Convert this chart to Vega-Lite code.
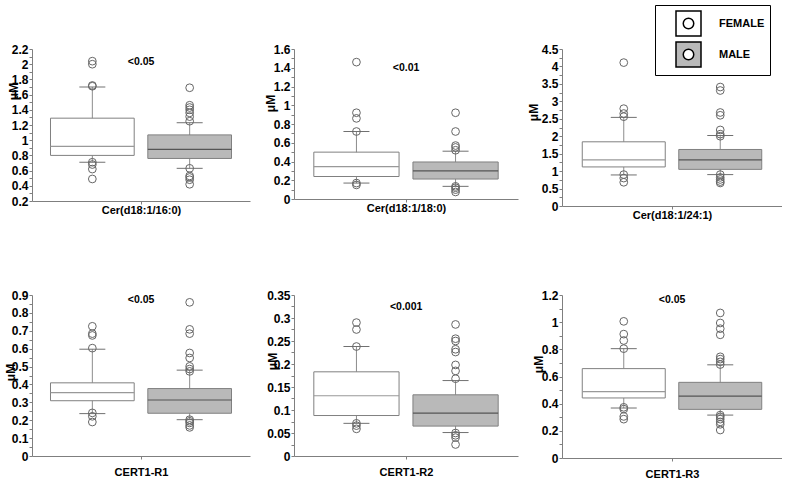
{
  "$schema": "https://vega.github.io/schema/vega-lite/v6.json",
  "padding": {"left": 4, "top": 4, "right": 0, "bottom": 0},
  "autosize": {"type": "pad"},
  "bounds": "flush",
  "columns": 3,
  "spacing": {"row": 89, "column": 44},
  "datasets": {
    "boxes": [
      {"panel": "p1", "sex": "FEMALE", "lo": 0.71, "q1": 0.80, "med": 0.92, "q3": 1.29, "hi": 1.70},
      {"panel": "p1", "sex": "MALE", "lo": 0.63, "q1": 0.76, "med": 0.88, "q3": 1.07, "hi": 1.23},
      {"panel": "p2", "sex": "FEMALE", "lo": 0.17, "q1": 0.24, "med": 0.345, "q3": 0.50, "hi": 0.72},
      {"panel": "p2", "sex": "MALE", "lo": 0.135, "q1": 0.213, "med": 0.30, "q3": 0.395, "hi": 0.51},
      {"panel": "p3", "sex": "FEMALE", "lo": 0.89, "q1": 1.12, "med": 1.32, "q3": 1.84, "hi": 2.54},
      {"panel": "p3", "sex": "MALE", "lo": 0.90, "q1": 1.05, "med": 1.32, "q3": 1.62, "hi": 2.02},
      {"panel": "p4", "sex": "FEMALE", "lo": 0.237, "q1": 0.309, "med": 0.354, "q3": 0.409, "hi": 0.597},
      {"panel": "p4", "sex": "MALE", "lo": 0.203, "q1": 0.239, "med": 0.313, "q3": 0.377, "hi": 0.48},
      {"panel": "p5", "sex": "FEMALE", "lo": 0.071, "q1": 0.088, "med": 0.131, "q3": 0.183, "hi": 0.238},
      {"panel": "p5", "sex": "MALE", "lo": 0.051, "q1": 0.065, "med": 0.093, "q3": 0.133, "hi": 0.164},
      {"panel": "p6", "sex": "FEMALE", "lo": 0.368, "q1": 0.442, "med": 0.489, "q3": 0.658, "hi": 0.805},
      {"panel": "p6", "sex": "MALE", "lo": 0.316, "q1": 0.358, "med": 0.455, "q3": 0.557, "hi": 0.686}
    ],
    "outliers": [
      {"panel": "p1", "sex": "FEMALE", "value": 2.04}, {"panel": "p1", "sex": "FEMALE", "value": 2.0}, {"panel": "p1", "sex": "FEMALE", "value": 1.72}, {"panel": "p1", "sex": "FEMALE", "value": 1.71}, {"panel": "p1", "sex": "FEMALE", "value": 0.71}, {"panel": "p1", "sex": "FEMALE", "value": 0.68}, {"panel": "p1", "sex": "FEMALE", "value": 0.62}, {"panel": "p1", "sex": "FEMALE", "value": 0.49},
      {"panel": "p1", "sex": "MALE", "value": 1.69}, {"panel": "p1", "sex": "MALE", "value": 1.46}, {"panel": "p1", "sex": "MALE", "value": 1.43}, {"panel": "p1", "sex": "MALE", "value": 1.40}, {"panel": "p1", "sex": "MALE", "value": 1.36}, {"panel": "p1", "sex": "MALE", "value": 1.31}, {"panel": "p1", "sex": "MALE", "value": 1.25}, {"panel": "p1", "sex": "MALE", "value": 0.63}, {"panel": "p1", "sex": "MALE", "value": 0.53}, {"panel": "p1", "sex": "MALE", "value": 0.51}, {"panel": "p1", "sex": "MALE", "value": 0.48}, {"panel": "p1", "sex": "MALE", "value": 0.42},
      {"panel": "p2", "sex": "FEMALE", "value": 1.46}, {"panel": "p2", "sex": "FEMALE", "value": 0.92}, {"panel": "p2", "sex": "FEMALE", "value": 0.86}, {"panel": "p2", "sex": "FEMALE", "value": 0.72}, {"panel": "p2", "sex": "FEMALE", "value": 0.17}, {"panel": "p2", "sex": "FEMALE", "value": 0.15},
      {"panel": "p2", "sex": "MALE", "value": 0.92}, {"panel": "p2", "sex": "MALE", "value": 0.72}, {"panel": "p2", "sex": "MALE", "value": 0.57}, {"panel": "p2", "sex": "MALE", "value": 0.55}, {"panel": "p2", "sex": "MALE", "value": 0.52}, {"panel": "p2", "sex": "MALE", "value": 0.135}, {"panel": "p2", "sex": "MALE", "value": 0.12}, {"panel": "p2", "sex": "MALE", "value": 0.10}, {"panel": "p2", "sex": "MALE", "value": 0.075},
      {"panel": "p3", "sex": "FEMALE", "value": 4.11}, {"panel": "p3", "sex": "FEMALE", "value": 2.79}, {"panel": "p3", "sex": "FEMALE", "value": 2.65}, {"panel": "p3", "sex": "FEMALE", "value": 2.56}, {"panel": "p3", "sex": "FEMALE", "value": 0.90}, {"panel": "p3", "sex": "FEMALE", "value": 0.80}, {"panel": "p3", "sex": "FEMALE", "value": 0.68},
      {"panel": "p3", "sex": "MALE", "value": 3.41}, {"panel": "p3", "sex": "MALE", "value": 3.31}, {"panel": "p3", "sex": "MALE", "value": 2.68}, {"panel": "p3", "sex": "MALE", "value": 2.60}, {"panel": "p3", "sex": "MALE", "value": 2.18}, {"panel": "p3", "sex": "MALE", "value": 2.06}, {"panel": "p3", "sex": "MALE", "value": 2.0}, {"panel": "p3", "sex": "MALE", "value": 0.90}, {"panel": "p3", "sex": "MALE", "value": 0.82}, {"panel": "p3", "sex": "MALE", "value": 0.76}, {"panel": "p3", "sex": "MALE", "value": 0.70}, {"panel": "p3", "sex": "MALE", "value": 0.66},
      {"panel": "p4", "sex": "FEMALE", "value": 0.725}, {"panel": "p4", "sex": "FEMALE", "value": 0.684}, {"panel": "p4", "sex": "FEMALE", "value": 0.674}, {"panel": "p4", "sex": "FEMALE", "value": 0.603}, {"panel": "p4", "sex": "FEMALE", "value": 0.241}, {"panel": "p4", "sex": "FEMALE", "value": 0.222}, {"panel": "p4", "sex": "FEMALE", "value": 0.19},
      {"panel": "p4", "sex": "MALE", "value": 0.859}, {"panel": "p4", "sex": "MALE", "value": 0.708}, {"panel": "p4", "sex": "MALE", "value": 0.684}, {"panel": "p4", "sex": "MALE", "value": 0.576}, {"panel": "p4", "sex": "MALE", "value": 0.548}, {"panel": "p4", "sex": "MALE", "value": 0.501}, {"panel": "p4", "sex": "MALE", "value": 0.486}, {"panel": "p4", "sex": "MALE", "value": 0.473}, {"panel": "p4", "sex": "MALE", "value": 0.203}, {"panel": "p4", "sex": "MALE", "value": 0.194}, {"panel": "p4", "sex": "MALE", "value": 0.185}, {"panel": "p4", "sex": "MALE", "value": 0.171}, {"panel": "p4", "sex": "MALE", "value": 0.16},
      {"panel": "p5", "sex": "FEMALE", "value": 0.29}, {"panel": "p5", "sex": "FEMALE", "value": 0.275}, {"panel": "p5", "sex": "FEMALE", "value": 0.238}, {"panel": "p5", "sex": "FEMALE", "value": 0.071}, {"panel": "p5", "sex": "FEMALE", "value": 0.066}, {"panel": "p5", "sex": "FEMALE", "value": 0.059},
      {"panel": "p5", "sex": "MALE", "value": 0.286}, {"panel": "p5", "sex": "MALE", "value": 0.255}, {"panel": "p5", "sex": "MALE", "value": 0.25}, {"panel": "p5", "sex": "MALE", "value": 0.232}, {"panel": "p5", "sex": "MALE", "value": 0.226}, {"panel": "p5", "sex": "MALE", "value": 0.198}, {"panel": "p5", "sex": "MALE", "value": 0.185}, {"panel": "p5", "sex": "MALE", "value": 0.168}, {"panel": "p5", "sex": "MALE", "value": 0.05}, {"panel": "p5", "sex": "MALE", "value": 0.045}, {"panel": "p5", "sex": "MALE", "value": 0.04}, {"panel": "p5", "sex": "MALE", "value": 0.025},
      {"panel": "p6", "sex": "FEMALE", "value": 1.006}, {"panel": "p6", "sex": "FEMALE", "value": 0.912}, {"panel": "p6", "sex": "FEMALE", "value": 0.865}, {"panel": "p6", "sex": "FEMALE", "value": 0.805}, {"panel": "p6", "sex": "FEMALE", "value": 0.373}, {"panel": "p6", "sex": "FEMALE", "value": 0.36}, {"panel": "p6", "sex": "FEMALE", "value": 0.306}, {"panel": "p6", "sex": "FEMALE", "value": 0.286},
      {"panel": "p6", "sex": "MALE", "value": 1.068}, {"panel": "p6", "sex": "MALE", "value": 0.994}, {"panel": "p6", "sex": "MALE", "value": 0.952}, {"panel": "p6", "sex": "MALE", "value": 0.907}, {"panel": "p6", "sex": "MALE", "value": 0.745}, {"panel": "p6", "sex": "MALE", "value": 0.728}, {"panel": "p6", "sex": "MALE", "value": 0.708}, {"panel": "p6", "sex": "MALE", "value": 0.688}, {"panel": "p6", "sex": "MALE", "value": 0.316}, {"panel": "p6", "sex": "MALE", "value": 0.303}, {"panel": "p6", "sex": "MALE", "value": 0.286}, {"panel": "p6", "sex": "MALE", "value": 0.266}, {"panel": "p6", "sex": "MALE", "value": 0.248}, {"panel": "p6", "sex": "MALE", "value": 0.206}
    ],
    "pvals": [
      {"panel": "p1", "sex": "MALE", "label": "<0.05", "y": 2.03},
      {"panel": "p2", "sex": "MALE", "label": "<0.01", "y": 1.40},
      {"panel": "p4", "sex": "MALE", "label": "<0.05", "y": 0.87},
      {"panel": "p5", "sex": "MALE", "label": "<0.001", "y": 0.325},
      {"panel": "p6", "sex": "MALE", "label": "<0.05", "y": 1.16}
    ]
  },
  "concat": [
    {
      "width": 218, "height": 152,
      "encoding": {"x": {"field": "sex", "type": "nominal", "scale": {"domain": ["FEMALE", "MALE"], "paddingInner": 0.14, "paddingOuter": 0.19}, "axis": {"title": "Cer(d18:1/16:0)", "labels": false, "values": ["MALE"], "bandPosition": -0.08, "titlePadding": 0}}},
      "layer": [
        {"data": {"name": "boxes"}, "transform": [{"filter": "datum.panel=='p1'"}], "mark": {"type": "rule", "color": "#8c8c8c"}, "encoding": {"y": {"field": "lo", "type": "quantitative", "scale": {"domain": [0.2, 2.2], "nice": false, "zero": false}, "axis": {"title": "μM", "tickCount": 100, "labelOverlap": false, "values": [0.2,0.3,0.4,0.5,0.6,0.7,0.8,0.9,1.0,1.1,1.2,1.3,1.4,1.5,1.6,1.7,1.8,1.9,2.0,2.1,2.2], "labelExpr": "round(datum.value*10)%2==0 ? format(datum.value,'~g') : ''", "titleX": -19, "titleY": 42}}, "y2": {"field": "hi"}}},
        {"data": {"name": "boxes"}, "transform": [{"filter": "datum.panel=='p1'"}], "mark": {"type": "bar", "stroke": "#808080", "strokeWidth": 1}, "encoding": {"y": {"field": "q1", "type": "quantitative"}, "y2": {"field": "q3"}, "fill": {"field": "sex", "type": "nominal", "scale": {"domain": ["FEMALE", "MALE"], "range": ["#ffffff", "#b9b9b9"]}, "legend": {"title": null, "orient": "none", "legendX": 623, "legendY": -44, "symbolType": "M-1,-1H1V1H-1Z M0.42,0A0.42,0.42,0,1,0,-0.42,0A0.42,0.42,0,1,0,0.42,0Z", "symbolSize": 625, "symbolStrokeColor": "black", "symbolStrokeWidth": 1.5, "symbolOpacity": 1, "labelFontSize": 11, "labelFontWeight": "bold", "labelColor": "black", "labelOffset": 17, "symbolOffset": 15, "rowPadding": 0, "padding": 5, "strokeColor": "black", "fillColor": "white"}}}},
        {"data": {"name": "boxes"}, "transform": [{"filter": "datum.panel=='p1'"}], "mark": {"type": "bar", "fillOpacity": 0, "strokeWidth": 1.2}, "encoding": {"y": {"field": "med", "type": "quantitative"}, "y2": {"field": "med"}, "stroke": {"condition": {"test": "datum.sex=='MALE'", "value": "#555555"}, "value": "#999999"}}},
        {"data": {"name": "boxes"}, "transform": [{"filter": "datum.panel=='p1'"}], "mark": {"type": "tick", "color": "#707070", "size": 26, "thickness": 1, "opacity": 1}, "encoding": {"y": {"field": "lo", "type": "quantitative"}}},
        {"data": {"name": "boxes"}, "transform": [{"filter": "datum.panel=='p1'"}], "mark": {"type": "tick", "color": "#707070", "size": 26, "thickness": 1, "opacity": 1}, "encoding": {"y": {"field": "hi", "type": "quantitative"}}},
        {"data": {"name": "outliers"}, "transform": [{"filter": "datum.panel=='p1'"}], "mark": {"type": "point", "shape": "circle", "filled": false, "color": "#666666", "strokeWidth": 1, "size": 60, "opacity": 1}, "encoding": {"y": {"field": "value", "type": "quantitative"}}},
        {"data": {"name": "pvals"}, "transform": [{"filter": "datum.panel=='p1'"}], "mark": {"type": "text", "fontWeight": "bold", "fontSize": 10.5, "color": "black", "baseline": "middle"}, "encoding": {"x": {"field": "sex", "type": "nominal", "bandPosition": -0.08}, "y": {"field": "y", "type": "quantitative"}, "text": {"field": "label"}}}
      ]
    },
    {
      "width": 224, "height": 150,
      "encoding": {"x": {"field": "sex", "type": "nominal", "scale": {"domain": ["FEMALE", "MALE"], "paddingInner": 0.14, "paddingOuter": 0.2}, "axis": {"title": "Cer(d18:1/18:0)", "labels": false, "values": ["MALE"], "bandPosition": -0.08, "titlePadding": 0}}},
      "layer": [
        {"data": {"name": "boxes"}, "transform": [{"filter": "datum.panel=='p2'"}], "mark": {"type": "rule", "color": "#8c8c8c"}, "encoding": {"y": {"field": "lo", "type": "quantitative", "scale": {"domain": [0, 1.6], "nice": false, "zero": false}, "axis": {"title": "μM", "tickCount": 100, "labelOverlap": false, "values": [0,0.1,0.2,0.3,0.4,0.5,0.6,0.7,0.8,0.9,1.0,1.1,1.2,1.3,1.4,1.5,1.6], "labelExpr": "round(datum.value*10)%2==0 ? format(datum.value,'~g') : ''", "titleX": -24, "titleY": 54}}, "y2": {"field": "hi"}}},
        {"data": {"name": "boxes"}, "transform": [{"filter": "datum.panel=='p2'"}], "mark": {"type": "bar", "stroke": "#808080", "strokeWidth": 1}, "encoding": {"y": {"field": "q1", "type": "quantitative"}, "y2": {"field": "q3"}, "fill": {"field": "sex", "type": "nominal", "scale": {"domain": ["FEMALE", "MALE"], "range": ["#ffffff", "#b9b9b9"]}, "legend": {"title": null, "orient": "none", "legendX": 623, "legendY": -44, "symbolType": "M-1,-1H1V1H-1Z M0.42,0A0.42,0.42,0,1,0,-0.42,0A0.42,0.42,0,1,0,0.42,0Z", "symbolSize": 625, "symbolStrokeColor": "black", "symbolStrokeWidth": 1.5, "symbolOpacity": 1, "labelFontSize": 11, "labelFontWeight": "bold", "labelColor": "black", "labelOffset": 17, "symbolOffset": 15, "rowPadding": 0, "padding": 5, "strokeColor": "black", "fillColor": "white"}}}},
        {"data": {"name": "boxes"}, "transform": [{"filter": "datum.panel=='p2'"}], "mark": {"type": "bar", "fillOpacity": 0, "strokeWidth": 1.2}, "encoding": {"y": {"field": "med", "type": "quantitative"}, "y2": {"field": "med"}, "stroke": {"condition": {"test": "datum.sex=='MALE'", "value": "#555555"}, "value": "#999999"}}},
        {"data": {"name": "boxes"}, "transform": [{"filter": "datum.panel=='p2'"}], "mark": {"type": "tick", "color": "#707070", "size": 26, "thickness": 1, "opacity": 1}, "encoding": {"y": {"field": "lo", "type": "quantitative"}}},
        {"data": {"name": "boxes"}, "transform": [{"filter": "datum.panel=='p2'"}], "mark": {"type": "tick", "color": "#707070", "size": 26, "thickness": 1, "opacity": 1}, "encoding": {"y": {"field": "hi", "type": "quantitative"}}},
        {"data": {"name": "outliers"}, "transform": [{"filter": "datum.panel=='p2'"}], "mark": {"type": "point", "shape": "circle", "filled": false, "color": "#666666", "strokeWidth": 1, "size": 60, "opacity": 1}, "encoding": {"y": {"field": "value", "type": "quantitative"}}},
        {"data": {"name": "pvals"}, "transform": [{"filter": "datum.panel=='p2'"}], "mark": {"type": "text", "fontWeight": "bold", "fontSize": 10.5, "color": "black", "baseline": "middle"}, "encoding": {"x": {"field": "sex", "type": "nominal", "bandPosition": -0.08}, "y": {"field": "y", "type": "quantitative"}, "text": {"field": "label"}}}
      ]
    },
    {
      "width": 220, "height": 157,
      "encoding": {"x": {"field": "sex", "type": "nominal", "scale": {"domain": ["FEMALE", "MALE"], "paddingInner": 0.14, "paddingOuter": 0.21}, "axis": {"title": "Cer(d18:1/24:1)", "labels": false, "values": ["MALE"], "bandPosition": -0.08, "titlePadding": 0}}},
      "layer": [
        {"data": {"name": "boxes"}, "transform": [{"filter": "datum.panel=='p3'"}], "mark": {"type": "rule", "color": "#8c8c8c"}, "encoding": {"y": {"field": "lo", "type": "quantitative", "scale": {"domain": [0, 4.5], "nice": false, "zero": false}, "axis": {"title": "μM", "tickCount": 100, "labelOverlap": false, "values": [0,0.25,0.5,0.75,1.0,1.25,1.5,1.75,2.0,2.25,2.5,2.75,3.0,3.25,3.5,3.75,4.0,4.25,4.5], "labelExpr": "round(datum.value*4)%2==0 ? format(datum.value,'~g') : ''", "titleX": -29, "titleY": 63}}, "y2": {"field": "hi"}}},
        {"data": {"name": "boxes"}, "transform": [{"filter": "datum.panel=='p3'"}], "mark": {"type": "bar", "stroke": "#808080", "strokeWidth": 1}, "encoding": {"y": {"field": "q1", "type": "quantitative"}, "y2": {"field": "q3"}, "fill": {"field": "sex", "type": "nominal", "scale": {"domain": ["FEMALE", "MALE"], "range": ["#ffffff", "#b9b9b9"]}, "legend": {"title": null, "orient": "none", "legendX": 623, "legendY": -44, "symbolType": "M-1,-1H1V1H-1Z M0.42,0A0.42,0.42,0,1,0,-0.42,0A0.42,0.42,0,1,0,0.42,0Z", "symbolSize": 625, "symbolStrokeColor": "black", "symbolStrokeWidth": 1.5, "symbolOpacity": 1, "labelFontSize": 11, "labelFontWeight": "bold", "labelColor": "black", "labelOffset": 17, "symbolOffset": 15, "rowPadding": 0, "padding": 5, "strokeColor": "black", "fillColor": "white"}}}},
        {"data": {"name": "boxes"}, "transform": [{"filter": "datum.panel=='p3'"}], "mark": {"type": "bar", "fillOpacity": 0, "strokeWidth": 1.2}, "encoding": {"y": {"field": "med", "type": "quantitative"}, "y2": {"field": "med"}, "stroke": {"condition": {"test": "datum.sex=='MALE'", "value": "#555555"}, "value": "#999999"}}},
        {"data": {"name": "boxes"}, "transform": [{"filter": "datum.panel=='p3'"}], "mark": {"type": "tick", "color": "#707070", "size": 26, "thickness": 1, "opacity": 1}, "encoding": {"y": {"field": "lo", "type": "quantitative"}}},
        {"data": {"name": "boxes"}, "transform": [{"filter": "datum.panel=='p3'"}], "mark": {"type": "tick", "color": "#707070", "size": 26, "thickness": 1, "opacity": 1}, "encoding": {"y": {"field": "hi", "type": "quantitative"}}},
        {"data": {"name": "outliers"}, "transform": [{"filter": "datum.panel=='p3'"}], "mark": {"type": "point", "shape": "circle", "filled": false, "color": "#666666", "strokeWidth": 1, "size": 60, "opacity": 1}, "encoding": {"y": {"field": "value", "type": "quantitative"}}}
      ]
    },
    {
      "width": 218, "height": 161,
      "encoding": {"x": {"field": "sex", "type": "nominal", "scale": {"domain": ["FEMALE", "MALE"], "paddingInner": 0.14, "paddingOuter": 0.19}, "axis": {"title": "CERT1-R1", "labels": false, "values": ["MALE"], "bandPosition": -0.08, "titlePadding": 7}}},
      "layer": [
        {"data": {"name": "boxes"}, "transform": [{"filter": "datum.panel=='p4'"}], "mark": {"type": "rule", "color": "#8c8c8c"}, "encoding": {"y": {"field": "lo", "type": "quantitative", "scale": {"domain": [0, 0.9], "nice": false, "zero": false}, "axis": {"title": "μM", "tickCount": 100, "labelOverlap": false, "values": [0,0.05,0.1,0.15,0.2,0.25,0.3,0.35,0.4,0.45,0.5,0.55,0.6,0.65,0.7,0.75,0.8,0.85,0.9], "labelExpr": "round(datum.value*20)%2==0 ? format(datum.value,'~g') : ''", "titleX": -22, "titleY": 77}}, "y2": {"field": "hi"}}},
        {"data": {"name": "boxes"}, "transform": [{"filter": "datum.panel=='p4'"}], "mark": {"type": "bar", "stroke": "#808080", "strokeWidth": 1}, "encoding": {"y": {"field": "q1", "type": "quantitative"}, "y2": {"field": "q3"}, "fill": {"field": "sex", "type": "nominal", "scale": {"domain": ["FEMALE", "MALE"], "range": ["#ffffff", "#b9b9b9"]}, "legend": {"title": null, "orient": "none", "legendX": 623, "legendY": -44, "symbolType": "M-1,-1H1V1H-1Z M0.42,0A0.42,0.42,0,1,0,-0.42,0A0.42,0.42,0,1,0,0.42,0Z", "symbolSize": 625, "symbolStrokeColor": "black", "symbolStrokeWidth": 1.5, "symbolOpacity": 1, "labelFontSize": 11, "labelFontWeight": "bold", "labelColor": "black", "labelOffset": 17, "symbolOffset": 15, "rowPadding": 0, "padding": 5, "strokeColor": "black", "fillColor": "white"}}}},
        {"data": {"name": "boxes"}, "transform": [{"filter": "datum.panel=='p4'"}], "mark": {"type": "bar", "fillOpacity": 0, "strokeWidth": 1.2}, "encoding": {"y": {"field": "med", "type": "quantitative"}, "y2": {"field": "med"}, "stroke": {"condition": {"test": "datum.sex=='MALE'", "value": "#555555"}, "value": "#999999"}}},
        {"data": {"name": "boxes"}, "transform": [{"filter": "datum.panel=='p4'"}], "mark": {"type": "tick", "color": "#707070", "size": 26, "thickness": 1, "opacity": 1}, "encoding": {"y": {"field": "lo", "type": "quantitative"}}},
        {"data": {"name": "boxes"}, "transform": [{"filter": "datum.panel=='p4'"}], "mark": {"type": "tick", "color": "#707070", "size": 26, "thickness": 1, "opacity": 1}, "encoding": {"y": {"field": "hi", "type": "quantitative"}}},
        {"data": {"name": "outliers"}, "transform": [{"filter": "datum.panel=='p4'"}], "mark": {"type": "point", "shape": "circle", "filled": false, "color": "#666666", "strokeWidth": 1, "size": 60, "opacity": 1}, "encoding": {"y": {"field": "value", "type": "quantitative"}}},
        {"data": {"name": "pvals"}, "transform": [{"filter": "datum.panel=='p4'"}], "mark": {"type": "text", "fontWeight": "bold", "fontSize": 10.5, "color": "black", "baseline": "middle"}, "encoding": {"x": {"field": "sex", "type": "nominal", "bandPosition": -0.08}, "y": {"field": "y", "type": "quantitative"}, "text": {"field": "label"}}}
      ]
    },
    {
      "width": 224, "height": 161,
      "encoding": {"x": {"field": "sex", "type": "nominal", "scale": {"domain": ["FEMALE", "MALE"], "paddingInner": 0.14, "paddingOuter": 0.2}, "axis": {"title": "CERT1-R2", "labels": false, "values": ["MALE"], "bandPosition": -0.08, "titlePadding": 7}}},
      "layer": [
        {"data": {"name": "boxes"}, "transform": [{"filter": "datum.panel=='p5'"}], "mark": {"type": "rule", "color": "#8c8c8c"}, "encoding": {"y": {"field": "lo", "type": "quantitative", "scale": {"domain": [0, 0.35], "nice": false, "zero": false}, "axis": {"title": "μM", "tickCount": 100, "labelOverlap": false, "values": [0,0.025,0.05,0.075,0.1,0.125,0.15,0.175,0.2,0.225,0.25,0.275,0.3,0.325,0.35], "labelExpr": "round(datum.value*40)%2==0 ? format(datum.value,'~g') : ''", "titleX": -22, "titleY": 66}}, "y2": {"field": "hi"}}},
        {"data": {"name": "boxes"}, "transform": [{"filter": "datum.panel=='p5'"}], "mark": {"type": "bar", "stroke": "#808080", "strokeWidth": 1}, "encoding": {"y": {"field": "q1", "type": "quantitative"}, "y2": {"field": "q3"}, "fill": {"field": "sex", "type": "nominal", "scale": {"domain": ["FEMALE", "MALE"], "range": ["#ffffff", "#b9b9b9"]}, "legend": {"title": null, "orient": "none", "legendX": 623, "legendY": -44, "symbolType": "M-1,-1H1V1H-1Z M0.42,0A0.42,0.42,0,1,0,-0.42,0A0.42,0.42,0,1,0,0.42,0Z", "symbolSize": 625, "symbolStrokeColor": "black", "symbolStrokeWidth": 1.5, "symbolOpacity": 1, "labelFontSize": 11, "labelFontWeight": "bold", "labelColor": "black", "labelOffset": 17, "symbolOffset": 15, "rowPadding": 0, "padding": 5, "strokeColor": "black", "fillColor": "white"}}}},
        {"data": {"name": "boxes"}, "transform": [{"filter": "datum.panel=='p5'"}], "mark": {"type": "bar", "fillOpacity": 0, "strokeWidth": 1.2}, "encoding": {"y": {"field": "med", "type": "quantitative"}, "y2": {"field": "med"}, "stroke": {"condition": {"test": "datum.sex=='MALE'", "value": "#555555"}, "value": "#999999"}}},
        {"data": {"name": "boxes"}, "transform": [{"filter": "datum.panel=='p5'"}], "mark": {"type": "tick", "color": "#707070", "size": 26, "thickness": 1, "opacity": 1}, "encoding": {"y": {"field": "lo", "type": "quantitative"}}},
        {"data": {"name": "boxes"}, "transform": [{"filter": "datum.panel=='p5'"}], "mark": {"type": "tick", "color": "#707070", "size": 26, "thickness": 1, "opacity": 1}, "encoding": {"y": {"field": "hi", "type": "quantitative"}}},
        {"data": {"name": "outliers"}, "transform": [{"filter": "datum.panel=='p5'"}], "mark": {"type": "point", "shape": "circle", "filled": false, "color": "#666666", "strokeWidth": 1, "size": 60, "opacity": 1}, "encoding": {"y": {"field": "value", "type": "quantitative"}}},
        {"data": {"name": "pvals"}, "transform": [{"filter": "datum.panel=='p5'"}], "mark": {"type": "text", "fontWeight": "bold", "fontSize": 10.5, "color": "black", "baseline": "middle"}, "encoding": {"x": {"field": "sex", "type": "nominal", "bandPosition": -0.08}, "y": {"field": "y", "type": "quantitative"}, "text": {"field": "label"}}}
      ]
    },
    {
      "width": 220, "height": 163,
      "encoding": {"x": {"field": "sex", "type": "nominal", "scale": {"domain": ["FEMALE", "MALE"], "paddingInner": 0.14, "paddingOuter": 0.21}, "axis": {"title": "CERT1-R3", "labels": false, "values": ["MALE"], "bandPosition": -0.08, "titlePadding": 7}}},
      "layer": [
        {"data": {"name": "boxes"}, "transform": [{"filter": "datum.panel=='p6'"}], "mark": {"type": "rule", "color": "#8c8c8c"}, "encoding": {"y": {"field": "lo", "type": "quantitative", "scale": {"domain": [0, 1.2], "nice": false, "zero": false}, "axis": {"title": "μM", "tickCount": 100, "labelOverlap": false, "values": [0,0.1,0.2,0.3,0.4,0.5,0.6,0.7,0.8,0.9,1.0,1.1,1.2], "labelExpr": "round(datum.value*10)%2==0 ? format(datum.value,'~g') : ''", "titleX": -24, "titleY": 69}}, "y2": {"field": "hi"}}},
        {"data": {"name": "boxes"}, "transform": [{"filter": "datum.panel=='p6'"}], "mark": {"type": "bar", "stroke": "#808080", "strokeWidth": 1}, "encoding": {"y": {"field": "q1", "type": "quantitative"}, "y2": {"field": "q3"}, "fill": {"field": "sex", "type": "nominal", "scale": {"domain": ["FEMALE", "MALE"], "range": ["#ffffff", "#b9b9b9"]}, "legend": {"title": null, "orient": "none", "legendX": 623, "legendY": -44, "symbolType": "M-1,-1H1V1H-1Z M0.42,0A0.42,0.42,0,1,0,-0.42,0A0.42,0.42,0,1,0,0.42,0Z", "symbolSize": 625, "symbolStrokeColor": "black", "symbolStrokeWidth": 1.5, "symbolOpacity": 1, "labelFontSize": 11, "labelFontWeight": "bold", "labelColor": "black", "labelOffset": 17, "symbolOffset": 15, "rowPadding": 0, "padding": 5, "strokeColor": "black", "fillColor": "white"}}}},
        {"data": {"name": "boxes"}, "transform": [{"filter": "datum.panel=='p6'"}], "mark": {"type": "bar", "fillOpacity": 0, "strokeWidth": 1.2}, "encoding": {"y": {"field": "med", "type": "quantitative"}, "y2": {"field": "med"}, "stroke": {"condition": {"test": "datum.sex=='MALE'", "value": "#555555"}, "value": "#999999"}}},
        {"data": {"name": "boxes"}, "transform": [{"filter": "datum.panel=='p6'"}], "mark": {"type": "tick", "color": "#707070", "size": 26, "thickness": 1, "opacity": 1}, "encoding": {"y": {"field": "lo", "type": "quantitative"}}},
        {"data": {"name": "boxes"}, "transform": [{"filter": "datum.panel=='p6'"}], "mark": {"type": "tick", "color": "#707070", "size": 26, "thickness": 1, "opacity": 1}, "encoding": {"y": {"field": "hi", "type": "quantitative"}}},
        {"data": {"name": "outliers"}, "transform": [{"filter": "datum.panel=='p6'"}], "mark": {"type": "point", "shape": "circle", "filled": false, "color": "#666666", "strokeWidth": 1, "size": 60, "opacity": 1}, "encoding": {"y": {"field": "value", "type": "quantitative"}}},
        {"data": {"name": "pvals"}, "transform": [{"filter": "datum.panel=='p6'"}], "mark": {"type": "text", "fontWeight": "bold", "fontSize": 10.5, "color": "black", "baseline": "middle"}, "encoding": {"x": {"field": "sex", "type": "nominal", "bandPosition": -0.08}, "y": {"field": "y", "type": "quantitative"}, "text": {"field": "label"}}}
      ]
    }
  ],
  "config": {
    "view": {"stroke": null},
    "font": "Liberation Sans",
    "axis": {"grid": false, "domainColor": "#7f7f7f", "tickColor": "#7f7f7f", "labelColor": "black", "labelFontWeight": "bold", "labelFontSize": 12, "titleColor": "black", "titleFontWeight": "bold", "titleFontSize": 11, "tickSize": 3, "labelOverlap": false},
    "axisY": {"labelPadding": 1, "titleFontSize": 12, "titleBaseline": "middle", "titleAngle": 270}
  }
}
